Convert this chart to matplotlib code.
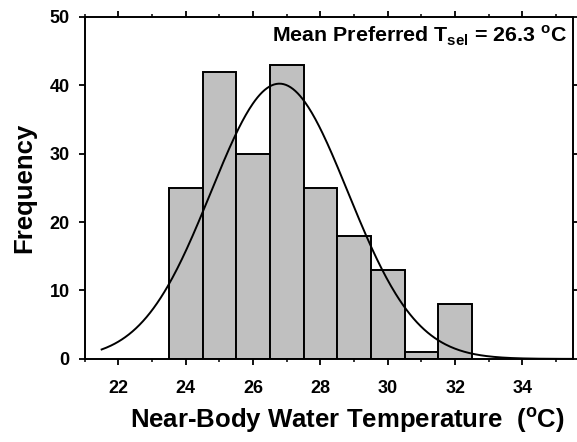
import numpy as np
import matplotlib
matplotlib.use("Agg")
import matplotlib.pyplot as plt

plt.rcParams['font.family'] = ['Liberation Sans', 'DejaVu Sans']
plt.rcParams['font.weight'] = 'bold'
plt.rcParams['mathtext.fontset'] = 'custom'
plt.rcParams['mathtext.rm'] = 'Liberation Sans:bold'
plt.rcParams['mathtext.bf'] = 'Liberation Sans:bold'

# histogram bins (centres, deg C) and counts
bin_centres = [24, 25, 26, 27, 28, 29, 30, 31, 32]
counts = [25, 42, 30, 43, 25, 18, 13, 1, 8]
bin_width = 1.0

x_ticks = [22, 24, 26, 28, 30, 32, 34]
y_ticks = [0, 10, 20, 30, 40, 50]

# normal fit to the binned data
c = np.array(bin_centres, dtype=float)
n = np.array(counts, dtype=float)
N = n.sum()
mu = (c * n).sum() / N
sd = np.sqrt((n * (c - mu) ** 2).sum() / (N - 1))
xs = np.linspace(21.5, 35.5, 400)
ys = N * bin_width / (sd * np.sqrt(2 * np.pi)) * np.exp(-0.5 * ((xs - mu) / sd) ** 2)

fig = plt.figure(figsize=(5.77, 4.42), dpi=100)
ax = fig.add_axes([0.147, 0.188, 0.846, 0.774])

ax.bar(bin_centres, counts, width=bin_width, color='#c0c0c0', edgecolor='black', linewidth=1.4, zorder=2)
ax.plot(xs, ys, color='black', lw=1.4, zorder=3)

ax.set_xlim(21.5, 35.5)
ax.set_ylim(0, 50)
ax.set_xticks(x_ticks)
ax.set_xticks(np.arange(21, 36, 1), minor=True)
ax.set_yticks(y_ticks)
ax.tick_params(axis='both', which='major', direction='out', length=4.3, width=1.3,
               labelsize=13, top=True, right=True)
ax.tick_params(axis='x', which='major', pad=11)
ax.tick_params(axis='y', which='major', pad=6.5)
ax.tick_params(axis='x', which='minor', direction='out', length=2.5, width=1.1, top=True)
for lab in ax.get_xticklabels() + ax.get_yticklabels():
    lab.set_fontweight('bold')
for s in ax.spines.values():
    s.set_linewidth(1.4)

ax.set_xlabel(r'Near-Body Water Temperature  ($^{\mathrm{o}}$C)', fontsize=18.5, fontweight='bold',
              labelpad=6, x=0.538)
ax.set_ylabel('Frequency', fontsize=18.5, fontweight='bold', labelpad=10)

ax.text(0.9877, 0.925, r'Mean Preferred T$_{\mathrm{sel}}$ = 26.3 $^{\mathrm{o}}$C', transform=ax.transAxes,
        ha='right', va='baseline', fontsize=15.4, fontweight='bold')

fig.savefig('out.png', dpi=100)
